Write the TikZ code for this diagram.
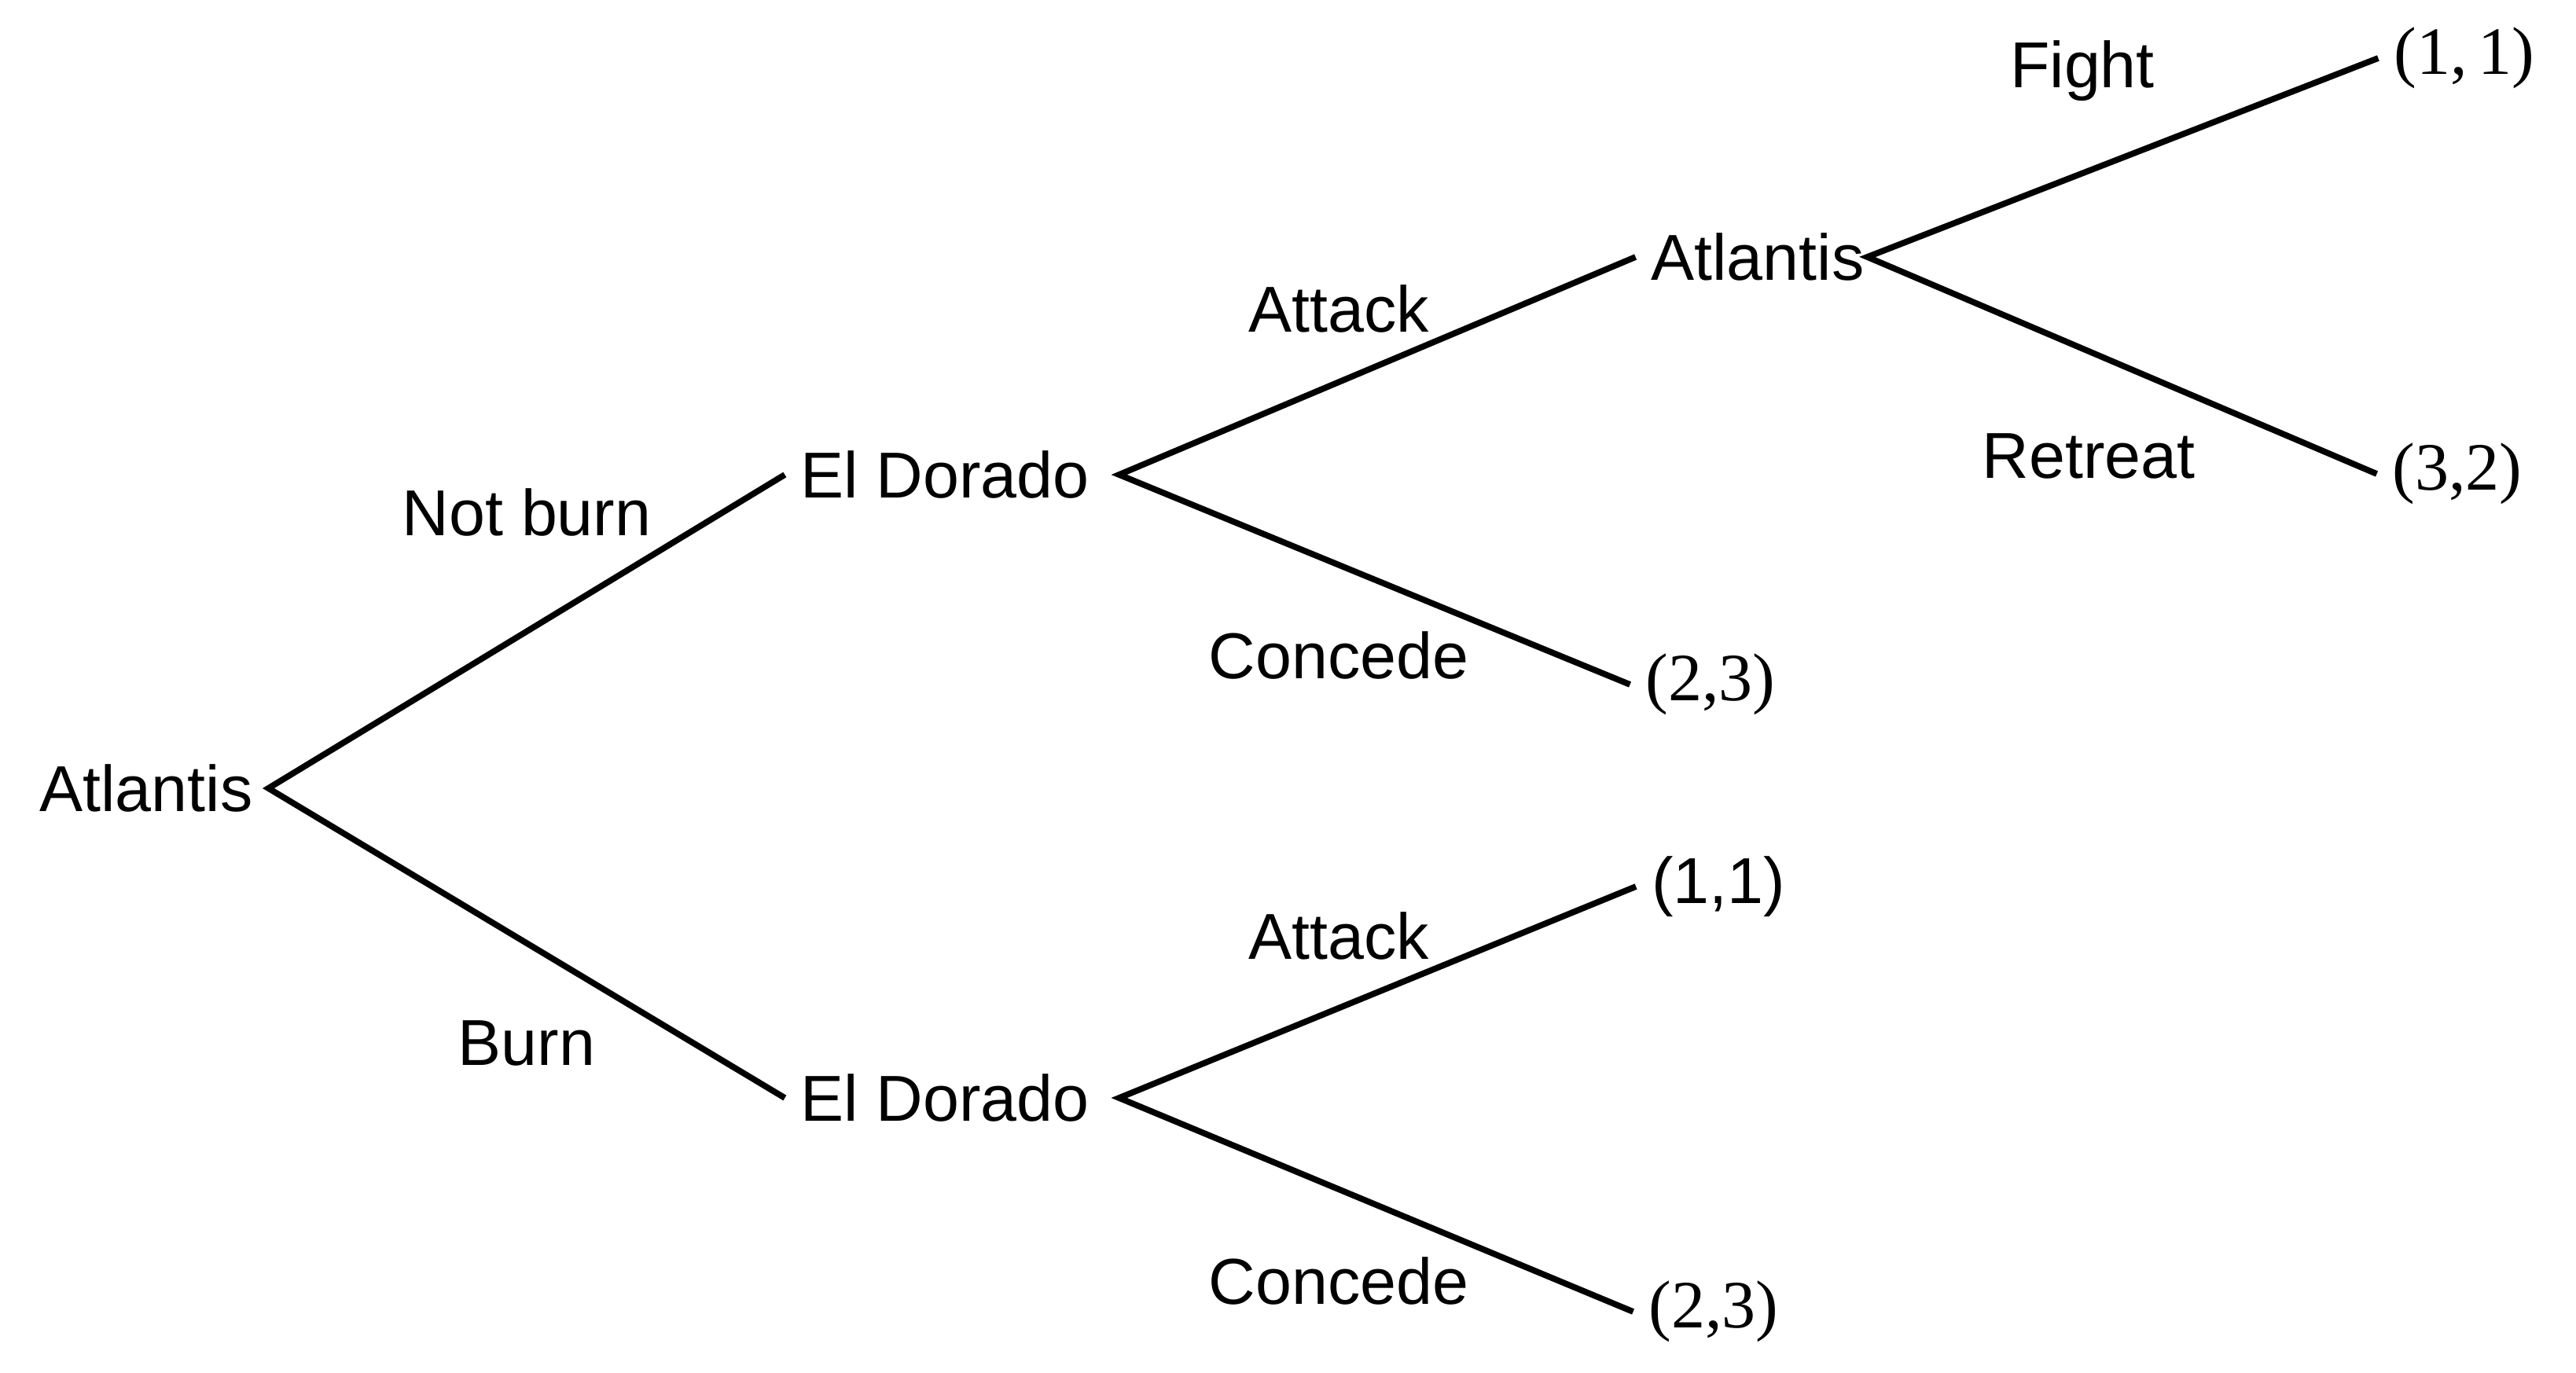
\documentclass[tikz,border=0pt]{standalone}
\usepackage{fontspec}
\newfontfamily\arialfont{Liberation Sans}
\newfontfamily\payfont{Liberation Serif}
\usetikzlibrary{positioning}
\tikzset{
  player/.style={font=\arialfont\fontsize{23.5}{28}\selectfont, inner sep=0pt, outer xsep=0.2cm},
  move/.style={font=\arialfont\fontsize{23.5}{28}\selectfont, inner sep=0pt},
  payoff/.style={font=\payfont\fontsize{24.5}{29}\selectfont, inner sep=0pt, outer xsep=0.2cm},
  payoffsans/.style={font=\arialfont\fontsize{23.5}{28}\selectfont, inner sep=0pt, outer xsep=0.2cm},
}

\begin{document}
\begin{tikzpicture}[line width=2.2pt]
        \useasboundingbox (0,0) rectangle (32.77,17.46);
        \node[player] (root) at (1.86,7.43) {Atlantis};
        \node[player] (ed1) at (12.02,11.42) {El Dorado};
        \node[player] (ed2) at (12.02,3.49) {El Dorado};
        \node[player] (at2) at (22.36,14.19) {Atlantis};
        \node[payoff] (p23a) at (21.76,8.75) {(2,3)};
        \node[payoffsans] (p11b) at (21.86,6.18) {(1,1)};
        \node[payoff] (p23b) at (21.80,0.77) {(2,3)};
        \node[payoff] (p11a) at (31.35,16.72) {(1,\,1)};
        \node[payoff] (p32) at (31.26,11.43) {(3,2)};
        \draw (ed1.west) -- (root.east) -- (ed2.west);
        \draw (at2.west) -- ([xshift=1.8mm]ed1.east) -- (p23a.west);
        \draw (p11b.west) -- ([xshift=1.8mm]ed2.east) -- (p23b.west);
        \draw (p11a.west) -- ([xshift=-1.6mm]at2.east) -- (p32.west);
        \node[move] (notburn) at (6.70,10.94) {Not burn};
        \node[move] (burn) at (6.70,4.19) {Burn};
        \node[move] (attack1) at (17.03,13.53) {Attack};
        \node[move] (concede1) at (17.03,9.12) {Concede};
        \node[move] (attack2) at (17.03,5.55) {Attack};
        \node[move] (concede2) at (17.03,1.16) {Concede};
        \node[move, anchor=base] (fight) at (26.49,16.34) {Fight};
        \node[move] (retreat) at (26.57,11.66) {Retreat};
\end{tikzpicture}
\end{document}
